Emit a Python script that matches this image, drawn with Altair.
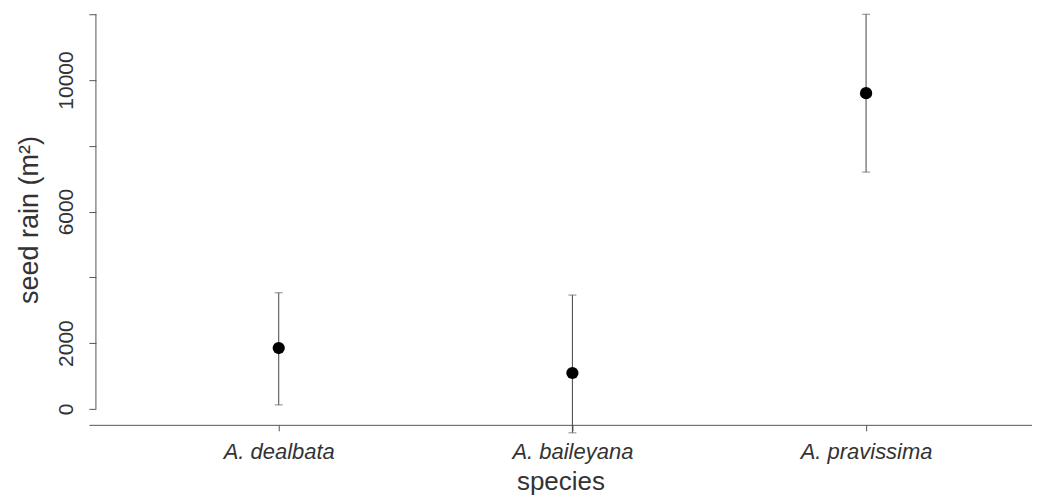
import json
import altair as alt
import pandas as pd

species = ["A. dealbata", "A. baileyana", "A. pravissima"]
means = [1850, 1090, 9600]
lowers = [120, -730, 7200]
uppers = [3530, 3460, 12000]
y_ticks = [0, 2000, 4000, 6000, 8000, 10000, 12000]
y_labels_shown = [0, 2000, 6000, 10000]

df = pd.DataFrame({
    "pos": [1, 2, 3],
    "species": species,
    "mean": means,
    "lo": lowers,
    "hi": uppers,
})
axis_df = pd.DataFrame({"y0": [y_ticks[0]], "y1": [y_ticks[-1]]})

FONT = "Liberation Sans"
xscale = alt.Scale(domain=[0.3537, 3.565], nice=False, zero=False)
yscale = alt.Scale(domain=[-486, 12000], nice=False, zero=False)

label_expr_x = json.dumps(species) + "[datum.value - 1]"
label_expr_y = "indexof(" + json.dumps(y_labels_shown) + ", datum.value) >= 0 ? format(datum.value, 'd') : ''"

xaxis = alt.Axis(
    values=[1, 2, 3], labelExpr=label_expr_x, title="species",
    labelFontStyle="italic", labelFont=FONT, labelFontSize=22, labelColor="#333",
    titleFont=FONT, titleFontSize=26, titleFontWeight="normal", titleColor="#333",
    tickSize=6, tickColor="#555", domainColor="#555", grid=False,
    labelPadding=11, titlePadding=6,
)
yaxis = alt.Axis(
    values=y_ticks, labelExpr=label_expr_y, title="seed rain (m²)",
    labelAngle=-90, labelAlign="center", labelBaseline="bottom",
    labelFont=FONT, labelFontSize=21, labelColor="#333",
    titleFont=FONT, titleFontSize=27, titleFontWeight="normal", titleColor="#333",
    tickSize=7, tickColor="#555", domain=False, grid=False, offset=-7,
    labelPadding=12, titlePadding=12, labelOverlap=False,
)

base = alt.Chart(df)

bars = base.mark_rule(color="#444", strokeWidth=1).encode(
    x=alt.X("pos:Q", scale=xscale, axis=xaxis),
    y=alt.Y("lo:Q", scale=yscale, axis=yaxis),
    y2="hi:Q",
)
cap_hi = base.mark_tick(color="#555", thickness=1, size=8, orient="horizontal").encode(
    x=alt.X("pos:Q", scale=xscale), y=alt.Y("hi:Q", scale=yscale)
)
cap_lo = base.mark_tick(color="#555", thickness=1, size=8, orient="horizontal").encode(
    x=alt.X("pos:Q", scale=xscale), y=alt.Y("lo:Q", scale=yscale)
)
points = base.mark_circle(color="black", opacity=1, size=150).encode(
    x=alt.X("pos:Q", scale=xscale), y=alt.Y("mean:Q", scale=yscale)
)
yline = alt.Chart(axis_df).mark_rule(color="#555", strokeWidth=1).encode(
    x=alt.value(7),
    y=alt.Y("y0:Q", scale=yscale),
    y2="y1:Q",
)

chart = alt.layer(yline, bars, cap_hi, cap_lo, points).properties(
    width=944, height=411, background="white",
    padding={"top": 5, "left": 8, "right": 0, "bottom": 0},
).configure_view(strokeWidth=0)

chart.save("out.html", embed_options={"renderer": "svg", "actions": False})
